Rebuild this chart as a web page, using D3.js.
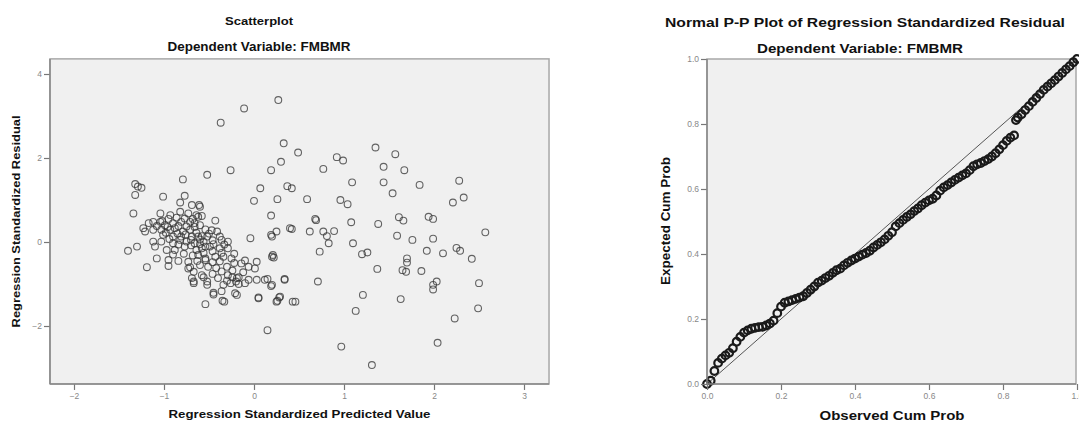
<!DOCTYPE html>
<html><head><meta charset="utf-8">
<script src="https://cdn.jsdelivr.net/npm/d3@7"></script>
<style>
body{margin:0;background:#fff;}
svg{display:block;font-family:"Liberation Sans",Arial,sans-serif;}
</style></head>
<body>
<svg id="c" width="1079" height="423"></svg>
<script>
// ---------- DATA ----------
const scatterTitle = "Scatterplot";
const depTitle = "Dependent Variable: FMBMR";
const ppTitle = "Normal P-P Plot of Regression Standardized Residual";
const scatterXTicks = [-2, -1, 0, 1, 2, 3];
const scatterYTicks = [-2, 0, 2, 4];
const ppTicks = [0, 0.2, 0.4, 0.6, 0.8, 1.0];

// [standardized predicted, standardized residual]
const scatterPoints = [
[.27,3.38],[-.11,3.18],[-.37,2.84],[.33,2.35],[.49,2.13],[.30,1.91],[.19,1.71],[-.26,1.71],[-.52,1.60],[-.79,1.49],[.07,1.28],[.37,1.33],[.42,1.28],
[1.35,2.25],[1.57,2.09],[.92,2.02],[.99,1.94],[.77,1.74],[1.44,1.79],[1.67,1.71],[1.09,1.42],[1.44,1.42],[1.84,1.36],[2.28,1.46],[1.54,1.16],[.96,1.0],[1.04,.9],[2.33,1.06],[2.21,.94],[.68,.55],[1.61,.59],[1.66,.51],[1.94,.60],[1.99,.55],[1.08,.47],[1.38,.43],[.42,.31],[.62,.25],[.77,.25],[.81,.14],[.89,.26],[.83,-.03],[1.10,-.03],[1.59,.15],[1.76,.05],[1.99,.08],[2.57,.23],[2.25,-.14],[2.29,-.21],[1.92,-.21],[2.10,-.27],[2.42,-.40],[.73,-.23],[1.20,-.29],[1.26,-.25],[1.70,-.39],[1.70,-.49],[1.65,-.67],[1.69,-.71],[1.86,-.69],[1.37,-.64],[.34,-.90],[.71,-.94],[1.99,-1.02],[2.03,-.94],[1.99,-1.13],[2.5,-.98],[.29,-1.30],[.46,-1.42],[1.21,-1.26],[1.63,-1.36],[2.49,-1.58],[1.13,-1.64],[2.23,-1.82],[.97,-2.49],[2.04,-2.40],[1.31,-2.93],
[.15,-2.10],[.26,-1.40],[.28,-1.32],[.05,-1.34],[.19,-1.05],[.15,-.88],[.20,-.35],[.22,-.37],[.0,.98],[.26,1.02],[.59,1.02],[.19,.63],[.69,.52],[.25,.25],[.19,.17],[-.04,.09],[.40,.33],[.20,.13],[.21,-.31],[.12,-.90],[.20,-1.02],[.34,-.88],[.43,-1.42],[.25,-1.42],[.03,-.90],[.03,-.47],[.01,-.63],
[-1.32,1.38],[-1.29,1.32],[-1.25,1.29],[-1.32,1.12],[-1.01,1.08],[-.77,1.10],[-.82,.94],[-.69,.88],[-.61,.88],[-1.34,.68],[-1.04,.68],[-.93,.64],[-.82,.72],[-.73,.68],[-.64,.64],[-.58,.62],[-.43,.51],[-1.17,.45],[-1.12,.48],[-1.04,.48],[-1.02,.50],[-.99,.40],[-.90,.45],[-.81,.48],[-.71,.48],[-.66,.45],[-.60,.40],[-1.23,.33],[-1.21,.25],[-1.12,.29],[-1.03,.29],[-.93,.29],[-.88,.33],[-.79,.25],[-.71,.29],[-1.01,.17],[-.90,.13],[-.81,.13],[-.69,.13],[-.58,.14],[-1.12,.01],[-1.03,.01],[-.90,-.03],[-.75,.01],[-.66,-.03],[-.56,.01],[-1.10,-.11],[-.97,-.19],[-.88,-.19],[-.77,-.11],[-.64,-.19],[-.54,-.11],[-1.40,-.21],[-1.30,-.11],[-1.08,-.39],[-.95,-.43],[-.84,-.45],[-.73,-.47],[-.62,-.31],[-.54,-.43],[-1.19,-.60],[-.95,-.57],[-.73,-.63],[-.71,-.60],[-.67,-.71],[-.69,-.86],[-.67,-.98],[-.58,-.79],[-.52,-1.02],[-.60,.84],[-.62,.60],[-.41,.25],[-.52,.13],[-.38,.13],[-.62,.13],[-.29,.01],[-.49,-.11],[-.38,-.15],[-.29,-.15],[-.58,-.15],[-.54,-.39],[-.43,-.35],[-.34,-.35],[-.25,-.39],[-.14,-.51],[-.06,-.59],[-.51,-.59],[-.30,-.59],[-.29,-.79],[-.19,-.86],[-.17,-.84],[-.17,-1.0],[-.06,-.90],[-.52,-.94],[-.34,-1.02],[-.45,-1.25],[-.45,-1.21],[-.36,-1.17],[-.21,-1.22],[-.19,-1.26],[-.33,-1.42],[-.35,-1.40],[-.54,-1.48],[.05,-1.32],[-.67,-.94],
[-.95,.55],[-.86,.58],[-.77,.56],[-.68,.55],[-1.08,.38],[-.96,.36],[-.84,.38],[-.75,.37],[-.66,.36],[-.54,.30],[-.47,.28],[-.98,.22],[-.85,.20],[-.76,.18],[-.64,.22],[-.50,.20],[-.94,.07],[-.82,.05],[-.70,.05],[-.60,.06],[-.46,.04],[-.36,.05],[-.84,-.06],[-.70,-.08],[-.60,-.05],[-.45,-.05],[-.33,-.06],[-.90,-.30],[-.78,-.28],[-.68,-.32],[-.56,-.26],[-.46,-.22],[-.36,-.26],[-.22,-.28],[-.63,-.45],[-.46,-.48],[-.38,-.46],[-.22,-.50],[-.10,-.44],[-.60,-.55],[-.42,-.62],[-.36,-.70],[-.24,-.68],[-.12,-.72],[-.46,-.76],[-.40,-.86],[-.30,-.92],[-.26,-.98],[-.20,-.94],[-.10,-.98],[-.56,-.84],[-.24,-.84]
];

// Normal P-P plot: observed vs expected cumulative probability
const ppObserved = [0,.01,.02,.03,.04,.05,.06,.07,.08,.09,.10,.11,.12,.13,.14,.15,.16,.17,.18,.19,.20,.21,.22,.23,.24,.25,.26,.27,.28,.29,.30,.31,.32,.33,.34,.35,.36,.37,.38,.39,.40,.41,.42,.43,.44,.45,.46,.47,.48,.49,.50,.51,.52,.53,.54,.55,.56,.57,.58,.59,.60,.61,.62,.63,.64,.65,.66,.67,.68,.69,.70,.71,.72,.73,.74,.75,.76,.77,.78,.79,.80,.81,.82,.83,.835,.84,.85,.86,.87,.88,.89,.90,.91,.92,.93,.94,.95,.96,.97,.98,.99,1.0];
const ppExpected = [0,.01,.04,.065,.078,.088,.096,.11,.13,.145,.158,.165,.17,.173,.175,.176,.18,.186,.195,.218,.238,.25,.254,.258,.262,.266,.27,.28,.29,.30,.312,.318,.326,.333,.342,.35,.355,.365,.373,.38,.386,.392,.398,.403,.41,.42,.428,.436,.445,.456,.467,.485,.495,.505,.514,.522,.532,.54,.55,.558,.565,.57,.58,.595,.605,.612,.62,.628,.635,.642,.648,.658,.67,.676,.68,.686,.692,.70,.71,.722,.735,.748,.758,.765,.812,.82,.83,.843,.855,.868,.88,.892,.905,.915,.925,.935,.946,.957,.968,.978,.99,1.0];

// ---------- DRAW ----------
const svg = d3.select("#c");
const FONT = '"Liberation Sans",Arial,sans-serif';

function txt(x, y, s, size, opts = {}) {
  const t = svg.append("text").attr("x", x).attr("y", y).text(s)
    .attr("font-size", size).attr("font-weight", opts.weight || "bold")
    .attr("fill", opts.fill || "#111").attr("text-anchor", "middle");
  if (opts.len) t.attr("textLength", opts.len).attr("lengthAdjust", "spacingAndGlyphs");
  if (opts.rot) t.attr("transform", `rotate(-90,${x},${y})`);
  return t;
}

// ----- Scatterplot -----
const xS = d3.scaleLinear().domain([-2, 3]).range([74, 524]);
const yS = d3.scaleLinear().domain([-2, 4]).range([326, 74]);
const sx0 = xS(-2.267), sx1 = xS(3.278), sy0 = yS(4.36), sy1 = yS(-3.38);

svg.append("rect").attr("x", sx0).attr("y", sy0).attr("width", sx1 - sx0).attr("height", sy1 - sy0)
  .attr("fill", "#f0f0f0").attr("stroke", "#a8a8a8").attr("stroke-width", 1.5);

const gS = svg.append("g");
gS.selectAll("circle").data(scatterPoints).join("circle")
  .attr("cx", d => xS(d[0])).attr("cy", d => yS(d[1])).attr("r", 3.4)
  .attr("fill", "none").attr("stroke", "#333").attr("stroke-opacity", 0.75).attr("stroke-width", 1.1);

const axX = svg.append("g").attr("transform", `translate(0,${sy1})`)
  .call(d3.axisBottom(xS).tickValues(scatterXTicks).tickSize(6).tickPadding(3).tickFormat(d3.format("d")));
const axY = svg.append("g").attr("transform", `translate(${sx0},0)`)
  .call(d3.axisLeft(yS).tickValues(scatterYTicks).tickSize(6).tickPadding(2).tickFormat(d3.format("d")));

svg.append("line").attr("x1", sx0).attr("x2", sx1).attr("y1", sy1).attr("y2", sy1).attr("stroke", "#888").attr("stroke-width", 1.5);
svg.append("line").attr("x1", sx0).attr("x2", sx0).attr("y1", sy0).attr("y2", sy1).attr("stroke", "#888").attr("stroke-width", 1.5);

txt(259, 25, scatterTitle, 11, { len: 68 });
txt(259, 51, depTitle, 12, { len: 183 });
txt((sx0 + sx1) / 2, 418, "Regression Standardized Predicted Value", 11.5, { len: 262 });
txt(20, (sy0 + sy1) / 2, "Regression Standardized Residual", 11, { rot: true, len: 212 });

// ----- P-P plot -----
const xP = d3.scaleLinear().domain([0, 1]).range([707, 1077]);
const yP = d3.scaleLinear().domain([0, 1]).range([384, 59]);

svg.append("rect").attr("x", xP(0)).attr("y", yP(1)).attr("width", 369).attr("height", yP(0) - yP(1))
  .attr("fill", "#f0f0f0").attr("stroke", "#a8a8a8").attr("stroke-width", 1.5);

svg.append("line").attr("x1", xP(0)).attr("y1", yP(0)).attr("x2", xP(1)).attr("y2", yP(1))
  .attr("stroke", "#555").attr("stroke-width", 1);

const ppData = ppObserved.map((o, i) => [o, ppExpected[i]]);
svg.append("g").selectAll("circle").data(ppData).join("circle")
  .attr("cx", d => xP(d[0])).attr("cy", d => yP(d[1])).attr("r", 3.8)
  .attr("fill", "none").attr("stroke", "#1a1a1a").attr("stroke-width", 2.2);

const axPX = svg.append("g").attr("transform", `translate(0,${yP(0)})`)
  .call(d3.axisBottom(xP).tickValues(ppTicks).tickSize(6).tickPadding(3).tickFormat(d3.format(".1f")));
const axPY = svg.append("g").attr("transform", `translate(${xP(0)},0)`)
  .call(d3.axisLeft(yP).tickValues(ppTicks).tickSize(6).tickPadding(2).tickFormat(d3.format(".1f")));

svg.append("line").attr("x1", xP(0)).attr("x2", 1076).attr("y1", yP(0)).attr("y2", yP(0)).attr("stroke", "#888").attr("stroke-width", 1.5);
svg.append("line").attr("x1", xP(0)).attr("x2", xP(0)).attr("y1", yP(1)).attr("y2", yP(0)).attr("stroke", "#888").attr("stroke-width", 1.5);

txt(865, 27, ppTitle, 13, { len: 400 });
txt(860, 53, depTitle, 13.5, { len: 206 });
txt(892, 420, "Observed Cum Prob", 13, { len: 145 });
txt(670, 221, "Expected Cum Prob", 12, { rot: true, len: 128 });

// axis styling
[axX, axY, axPX, axPY].forEach(g => {
  g.select(".domain").remove();
  g.selectAll(".tick line").attr("stroke", "#777").attr("stroke-width", 1.2);
  g.selectAll(".tick text").attr("fill", "#888").attr("font-size", 8.5).attr("font-family", FONT);
});
</script>
</body></html>
